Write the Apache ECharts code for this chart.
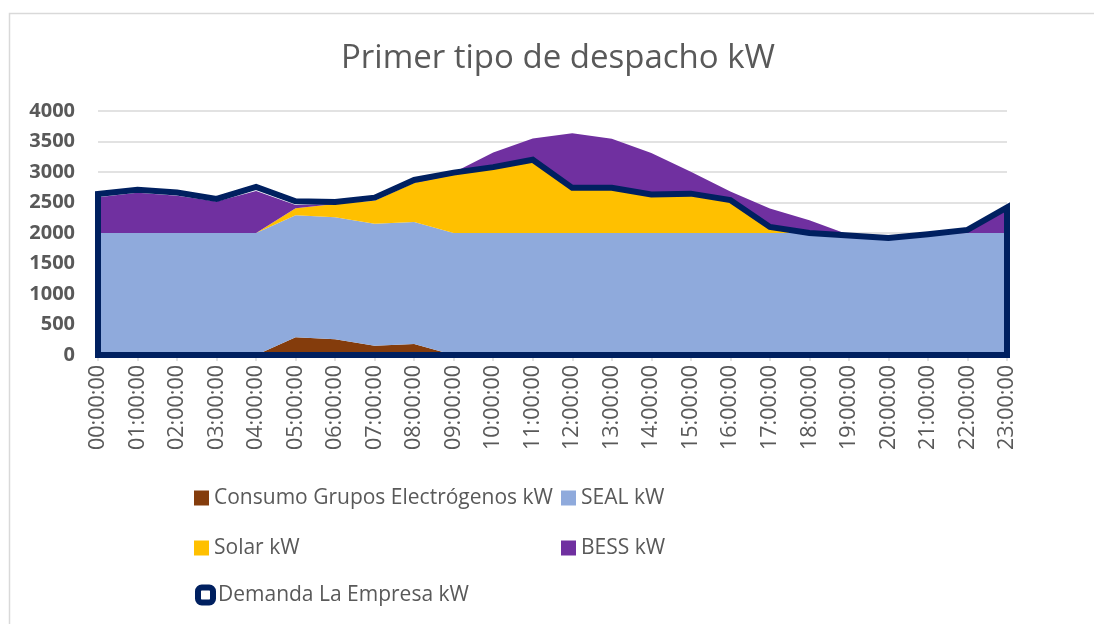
<!DOCTYPE html>
<html>
<head>
<meta charset="utf-8">
<title>Primer tipo de despacho kW</title>
<script src="https://cdn.jsdelivr.net/npm/echarts@6/dist/echarts.min.js"></script>
<style>
  html, body { margin: 0; padding: 0; background: #ffffff; }
  #chart { width: 1094px; height: 624px; }
</style>
</head>
<body>
<div id="chart"></div>
<script>
// Hourly dispatch (kW)
const hours = ['00:00:00','01:00:00','02:00:00','03:00:00','04:00:00','05:00:00','06:00:00','07:00:00',
               '08:00:00','09:00:00','10:00:00','11:00:00','12:00:00','13:00:00','14:00:00','15:00:00',
               '16:00:00','17:00:00','18:00:00','19:00:00','20:00:00','21:00:00','22:00:00','23:00:00'];

const consumoGrupos = [0, 0, 0, 0, 0, 290, 260, 150, 180, 0, 0, 0, 0, 0, 0, 0, 0, 0, 0, 0, 0, 0, 0, 0];
const seal          = [2000, 2000, 2000, 2000, 2000, 2000, 2000, 2000, 2000, 2000, 2000, 2000,
                       2000, 2000, 2000, 2000, 2000, 2000, 2000, 1970, 1920, 1980, 2000, 2000];
const solar         = [0, 0, 0, 0, 0, 115, 215, 380, 640, 950, 1070, 1190, 720, 720, 610, 620, 500, 60, 0, 0, 0, 0, 0, 0];
const bess          = [585, 660, 610, 515, 690, 55, 0, 0, 0, 40, 250, 360, 915, 825, 700, 385, 180, 340, 210, 0, 0, 0, 40, 420];
const demanda       = [2640, 2710, 2665, 2560, 2755, 2520, 2510, 2580, 2870, 2990, 3080, 3200,
                       2740, 2740, 2630, 2645, 2540, 2100, 2000, 1960, 1920, 1980, 2050, 2420];

const yTicks = { min: 0, max: 4000, interval: 500 };

const NAMES = {
  consumo: 'Consumo Grupos Electrógenos kW',
  seal: 'SEAL kW',
  solar: 'Solar kW',
  bess: 'BESS kW',
  demanda: 'Demanda La Empresa kW'
};
const COLORS = {
  consumo: '#843C0C',
  seal: '#8FAADC',
  solar: '#FFC000',
  bess: '#7030A0',
  demanda: '#002060'
};
const FONT = '"Open Sans", "Noto Sans", sans-serif';
const TEXT = '#595959';

function stackedArea(name, color, values) {
  return {
    name: name,
    type: 'line',
    stack: 'dispatch',
    data: values,
    symbol: 'none',
    showSymbol: false,
    lineStyle: { width: 0, color: color },
    itemStyle: { color: color },
    areaStyle: { color: color, opacity: 1 },
    emphasis: { disabled: true },
    z: 2
  };
}

function legendItem(name, left, top, extra) {
  return {
    left: left,
    top: top,
    padding: 0,
    itemWidth: 15,
    itemHeight: 15,
    icon: 'rect',
    selectedMode: false,
    textStyle: { color: TEXT, fontSize: 21, fontFamily: FONT, lineHeight: 24 },
    data: [Object.assign({ name: name }, extra || {})]
  };
}

const chart = echarts.init(document.getElementById('chart'), null, { renderer: 'canvas' });

chart.setOption({
  animation: false,
  backgroundColor: '#ffffff',
  textStyle: { fontFamily: FONT },
  graphic: [{
    type: 'rect',
    shape: { x: 9.5, y: 13.5, width: 1200, height: 700 },
    style: { fill: 'none', stroke: '#d9d9d9', lineWidth: 1.5 },
    silent: true,
    z: -10
  }],
  title: {
    text: 'Primer tipo de despacho kW',
    left: 553,
    textAlign: 'center',
    top: 37,
    textStyle: { color: TEXT, fontSize: 33, fontWeight: 'normal', fontFamily: FONT }
  },
  legend: [
    legendItem(NAMES.consumo, 194, 486),
    legendItem(NAMES.seal, 561, 486),
    legendItem(NAMES.solar, 194, 536),
    legendItem(NAMES.bess, 561, 536),
    Object.assign(legendItem(NAMES.demanda, 195, 583, {
      icon: 'roundRect',
      itemStyle: { color: '#ffffff', borderColor: COLORS.demanda, borderWidth: 6 }
    }), { itemWidth: 15, itemHeight: 15 })
  ],
  grid: { left: 98, right: 87, top: 111, bottom: 269, containLabel: false },
  xAxis: {
    type: 'category',
    data: hours,
    boundaryGap: false,
    axisLine: { show: true, lineStyle: { color: '#bfbfbf', width: 1 } },
    axisTick: { show: true, length: 6, lineStyle: { color: '#d9d9d9', width: 1.5 } },
    axisLabel: {
      rotate: 90,
      interval: 0,
      margin: 10,
      color: TEXT,
      fontSize: 21.5,
      fontFamily: FONT
    },
    splitLine: { show: false }
  },
  yAxis: {
    type: 'value',
    min: yTicks.min,
    max: yTicks.max,
    interval: yTicks.interval,
    axisLine: { show: false },
    axisTick: { show: false },
    axisLabel: {
      margin: 23,
      color: TEXT,
      fontSize: 20,
      fontWeight: 'bold',
      fontFamily: FONT,
      formatter: function (v) { return String(v); }
    },
    splitLine: { show: true, lineStyle: { color: '#d9d9d9', width: 1.5 } }
  },
  series: [
    stackedArea(NAMES.consumo, COLORS.consumo, consumoGrupos),
    stackedArea(NAMES.seal, COLORS.seal, seal),
    stackedArea(NAMES.solar, COLORS.solar, solar),
    stackedArea(NAMES.bess, COLORS.bess, bess),
    {
      // Demand drawn as an unfilled area outline: baseline, both edges and the hourly profile
      name: NAMES.demanda,
      type: 'custom',
      data: demanda.map((v, i) => [i, v]),
      encode: { x: 0, y: 1 },
      clip: false,
      z: 5,
      itemStyle: { color: COLORS.demanda },
      renderItem: function (params, api) {
        if (params.dataIndex !== 0) return null;
        const pts = [api.coord([0, 0])];
        for (let i = 0; i < demanda.length; i++) {
          pts.push(api.coord([i, demanda[i]]));
        }
        pts.push(api.coord([demanda.length - 1, 0]));
        return {
          type: 'polygon',
          shape: { points: pts },
          style: {
            fill: 'none',
            stroke: COLORS.demanda,
            lineWidth: 6,
            lineJoin: 'miter'
          }
        };
      }
    }
  ]
});
</script>
</body>
</html>
